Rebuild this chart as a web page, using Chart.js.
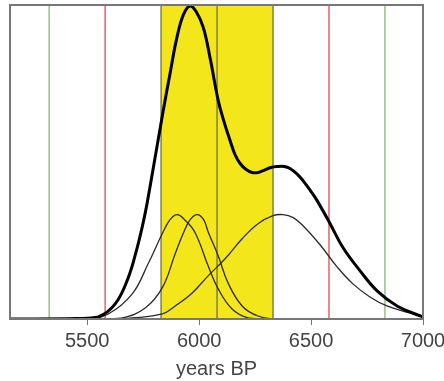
<!DOCTYPE html>
<html>
<head>
<meta charset="utf-8">
<script src="https://cdn.jsdelivr.net/npm/chart.js@4.4.1/dist/chart.umd.min.js"></script>
<style>
  html, body { margin: 0; padding: 0; background: #fff; }
  #wrap { width: 444px; height: 381px; }
</style>
</head>
<body>
<div id="wrap"><canvas id="chart" width="444" height="381"></canvas></div>
<script>
// x axis: years BP, y axis: relative probability (no labels)
const xMin = 5155;
const xMax = 7000;
const yMax = 313;
const tickYears = [5500, 6000, 6500, 7000];

// summed curve (thick)
const sumYears  = [5155, 5450, 5549, 5625, 5683, 5723, 5750, 5768, 5804, 5839, 5871, 5900, 5929, 5958, 5985, 6018, 6049, 6085, 6112, 6138, 6160, 6183, 6210, 6237, 6262, 6286, 6320, 6350, 6380, 6406, 6440, 6464, 6500, 6527, 6585, 6643, 6719, 6795, 6884, 6987, 7000];
const sumValues = [0, 0.5, 2, 15, 41, 71, 96, 116, 162, 207, 246, 280, 303, 312, 307, 291, 260, 218, 196, 178, 164, 155, 149, 146, 146, 148, 151, 152, 152, 150, 144, 138, 127, 118, 95, 71, 48, 28, 13, 3, 2];

// individual components (thin)
const comp1Years  = [5155, 5500, 5594, 5701, 5772, 5835, 5870, 5902, 5935, 5982, 6040, 6085, 6147, 6219, 6300, 7000];
const comp1Values = [0, 0.5, 5, 25, 55, 85, 99, 104, 99, 86, 53, 30, 10, 1, 0, 0];

const comp2Years  = [5155, 5560, 5656, 5759, 5835, 5893, 5930, 5960, 5991, 6020, 6040, 6085, 6129, 6192, 6263, 6350, 7000];
const comp2Values = [0, 0, 1, 11, 31, 65, 86, 99, 104, 99, 87, 63, 36, 13, 3, 0, 0];

const comp3Years  = [5155, 5600, 5700, 5835, 5893, 5969, 6040, 6116, 6192, 6263, 6330, 6375, 6420, 6464, 6540, 6616, 6687, 6763, 6839, 6942, 7000];
const comp3Values = [0, 0, 1, 5, 13, 26, 43, 60, 80, 95, 103, 104, 101, 93, 74, 52, 35, 22, 13, 6, 3];

// reference ranges
const bandRange = [5830, 6330];
const meanYear = 6080;
const redYears = [5580, 6580];
const greenYears = [5330, 6830];

const toPoints = (xs, ys) => xs.map((x, i) => ({ x: x, y: ys[i] }));
const vline = (year) => [{ x: year, y: 0 }, { x: year, y: yMax }];

const curve = (data, width, color) => ({
    data: data,
    borderColor: color,
    borderWidth: width,
    pointRadius: 0,
    showLine: true,
    fill: false,
    tension: 0.4
});

const line = (year, color, width) => ({
    data: vline(year),
    borderColor: color,
    borderWidth: width,
    pointRadius: 0,
    showLine: true,
    fill: false
});

const datasets = [
    curve(toPoints(sumYears, sumValues), 3, '#000000'),
    curve(toPoints(comp1Years, comp1Values), 1.3, '#2a2a2a'),
    curve(toPoints(comp2Years, comp2Values), 1.3, '#2a2a2a'),
    curve(toPoints(comp3Years, comp3Values), 1.3, '#2a2a2a'),
    line(meanYear, '#80804a', 1.5),
    line(bandRange[0], '#80804a', 1.5),
    line(bandRange[1], '#80804a', 1.5),
    line(redYears[0], '#e8606a', 1.5),
    line(redYears[1], '#e8606a', 1.5),
    line(greenYears[0], '#94c47e', 1.5),
    line(greenYears[1], '#94c47e', 1.5),
    {
        // yellow 1-sigma band
        data: [{ x: bandRange[0], y: yMax }, { x: bandRange[1], y: yMax }],
        borderWidth: 0,
        pointRadius: 0,
        showLine: true,
        backgroundColor: '#f3e61a',
        fill: 'origin'
    }
];

// frame round the plot area
const framePlugin = {
    id: 'frame',
    afterDraw(chart) {
        const { ctx, chartArea: a } = chart;
        ctx.save();
        ctx.strokeStyle = '#777777';
        ctx.lineWidth = 2;
        ctx.strokeRect(a.left, a.top, a.right - a.left, a.bottom - a.top);
        ctx.restore();
    }
};

new Chart(document.getElementById('chart').getContext('2d'), {
    type: 'scatter',
    data: { datasets: datasets },
    options: {
        responsive: false,
        animation: false,
        layout: { padding: { top: 5, left: 10, right: 0, bottom: 0 } },
        plugins: { legend: { display: false }, tooltip: { enabled: false } },
        scales: {
            x: {
                type: 'linear',
                min: xMin,
                max: xMax,
                afterBuildTicks: (axis) => { axis.ticks = tickYears.map(v => ({ value: v })); },
                // "7000" is allowed to run up to the page edge, as in the original
                afterFit: (axis) => { axis.paddingRight = 21; },
                grid: { display: true, drawOnChartArea: false, drawTicks: true, tickLength: 6, color: '#777777' },
                border: { display: true, color: '#777777', width: 2 },
                ticks: {
                    color: '#444444',
                    padding: 4,
                    maxRotation: 0,
                    font: { family: 'Liberation Sans', size: 20 },
                    callback: (v) => String(v)
                },
                title: {
                    display: true,
                    text: 'years BP',
                    color: '#444444',
                    padding: { top: 0, bottom: 0 },
                    font: { family: 'Liberation Sans', size: 20 }
                }
            },
            y: {
                type: 'linear',
                min: 0,
                max: yMax,
                display: false
            }
        }
    },
    plugins: [framePlugin]
});
</script>
</body>
</html>
